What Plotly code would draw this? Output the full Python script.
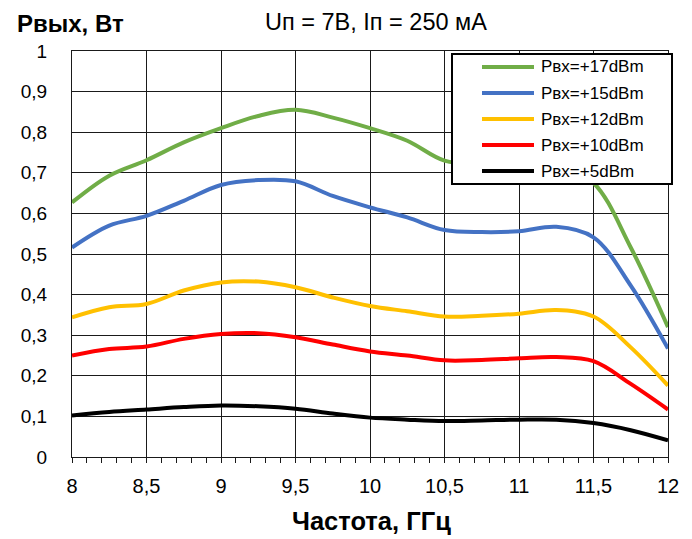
import plotly.graph_objects as go

# Output power vs frequency for several input drive levels
freq = [8, 8.25, 8.5, 8.75, 9, 9.25, 9.5, 9.75, 10, 10.25, 10.5, 10.75, 11, 11.25, 11.5, 11.75, 12]

p_in17 = [0.627, 0.693, 0.731, 0.775, 0.810, 0.840, 0.855, 0.836, 0.810, 0.779, 0.730, 0.722, 0.720, 0.722, 0.675, 0.516, 0.320]
p_in15 = [0.516, 0.570, 0.594, 0.631, 0.670, 0.682, 0.679, 0.643, 0.615, 0.590, 0.559, 0.554, 0.556, 0.567, 0.541, 0.422, 0.267]
p_in12 = [0.344, 0.369, 0.377, 0.410, 0.430, 0.432, 0.418, 0.393, 0.372, 0.359, 0.346, 0.348, 0.353, 0.362, 0.346, 0.270, 0.176]
p_in10 = [0.250, 0.266, 0.272, 0.291, 0.303, 0.305, 0.295, 0.277, 0.260, 0.250, 0.238, 0.239, 0.243, 0.246, 0.236, 0.180, 0.117]
p_in5 = [0.1025, 0.111, 0.117, 0.123, 0.127, 0.125, 0.119, 0.107, 0.097, 0.092, 0.0885, 0.090, 0.092, 0.092, 0.0836, 0.066, 0.041]

series_names = ["Рвх=+17dBm", "Рвх=+15dBm", "Рвх=+12dBm", "Рвх=+10dBm", "Рвх=+5dBm"]
series_values = [p_in17, p_in15, p_in12, p_in10, p_in5]
series_colors = ["#70AD47", "#4472C4", "#FFC000", "#FF0000", "#000000"]

x_ticks = [8, 8.5, 9, 9.5, 10, 10.5, 11, 11.5, 12]
x_tick_labels = ["8", "8,5", "9", "9,5", "10", "10,5", "11", "11,5", "12"]
y_ticks = [0, 0.1, 0.2, 0.3, 0.4, 0.5, 0.6, 0.7, 0.8, 0.9, 1]
y_tick_labels = ["0", "0,1", "0,2", "0,3", "0,4", "0,5", "0,6", "0,7", "0,8", "0,9", "1"]

y_title = "Рвых, Вт"
top_title = "Uп = 7В, Iп = 250 мА"
x_title = "Частота, ГГц"

FONT = "Liberation Sans Narrow, Arial Narrow, Liberation Sans, Arial, sans-serif"
W, H = 692, 539
ML, MR, MT, MB = 72, 24, 51, 82
PW, PH = W - ML - MR, H - MT - MB


def px(x):
    """pixel x -> paper x"""
    return (x - ML) / PW


def py(y):
    """pixel y (from top) -> paper y"""
    return (H - MB - y) / PH


fig = go.Figure()
for name, vals, color in zip(series_names, series_values, series_colors):
    fig.add_trace(go.Scatter(
        x=freq, y=vals, name=name, mode="lines",
        line=dict(color=color, width=4, shape="spline", smoothing=1.0),
        showlegend=False, hoverinfo="x+y+name",
    ))

grid_col = "#1a1a1a"
fig.update_layout(
    width=W, height=H,
    margin=dict(l=ML, r=MR, t=MT, b=MB),
    paper_bgcolor="white", plot_bgcolor="white",
    font=dict(family=FONT, color="black", size=19),
    xaxis=dict(
        range=[8, 12], tickvals=x_ticks, ticktext=x_tick_labels,
        showgrid=True, gridcolor=grid_col, gridwidth=1,
        showline=True, linecolor=grid_col, linewidth=1, mirror=True,
        ticks="outside", ticklen=5, tickcolor=grid_col, tickwidth=1,
        tickfont=dict(size=20, family=FONT),
        ticklabelstandoff=6,
        minor=dict(dtick=0.1, tick0=8, ticks="outside", ticklen=5,
                   tickcolor=grid_col, tickwidth=1, showgrid=False),
        zeroline=False, fixedrange=True,
    ),
    yaxis=dict(
        range=[0, 1], tickvals=y_ticks, ticktext=y_tick_labels,
        showgrid=True, gridcolor=grid_col, gridwidth=1,
        showline=True, linecolor=grid_col, linewidth=1, mirror=True,
        ticks="", tickfont=dict(size=19, family=FONT),
        ticklabelstandoff=20,
        zeroline=False, fixedrange=True,
    ),
)

# Legend box drawn on top of the curves
legend_rows = [67, 93, 119, 145, 171]
shapes = [dict(type="rect", xref="paper", yref="paper",
               x0=px(452), x1=px(672), y0=py(184), y1=py(54),
               line=dict(color="black", width=2), fillcolor="white", layer="above")]
annotations = []
for name, color, ry in zip(series_names, series_colors, legend_rows):
    shapes.append(dict(type="line", xref="paper", yref="paper",
                       x0=px(482), x1=px(534), y0=py(ry), y1=py(ry),
                       line=dict(color=color, width=4), layer="above"))
    annotations.append(dict(text=name, xref="paper", yref="paper",
                            x=px(539), y=py(ry), xanchor="left", yanchor="middle",
                            showarrow=False, font=dict(size=17, family=FONT)))

annotations += [
    dict(text="<b>" + y_title + "</b>", xref="paper", yref="paper",
         x=px(15), y=py(23), xanchor="left", yanchor="middle",
         showarrow=False, font=dict(size=24, family=FONT)),
    dict(text=top_title, xref="paper", yref="paper",
         x=px(376), y=py(22), xanchor="center", yanchor="middle",
         showarrow=False, font=dict(size=23.5, family=FONT)),
    dict(text="<b>" + x_title + "</b>", xref="paper", yref="paper",
         x=px(371), y=py(521), xanchor="center", yanchor="middle",
         showarrow=False, font=dict(size=25.5, family=FONT)),
]
fig.update_layout(shapes=shapes, annotations=annotations)

fig.write_html("out.html")
